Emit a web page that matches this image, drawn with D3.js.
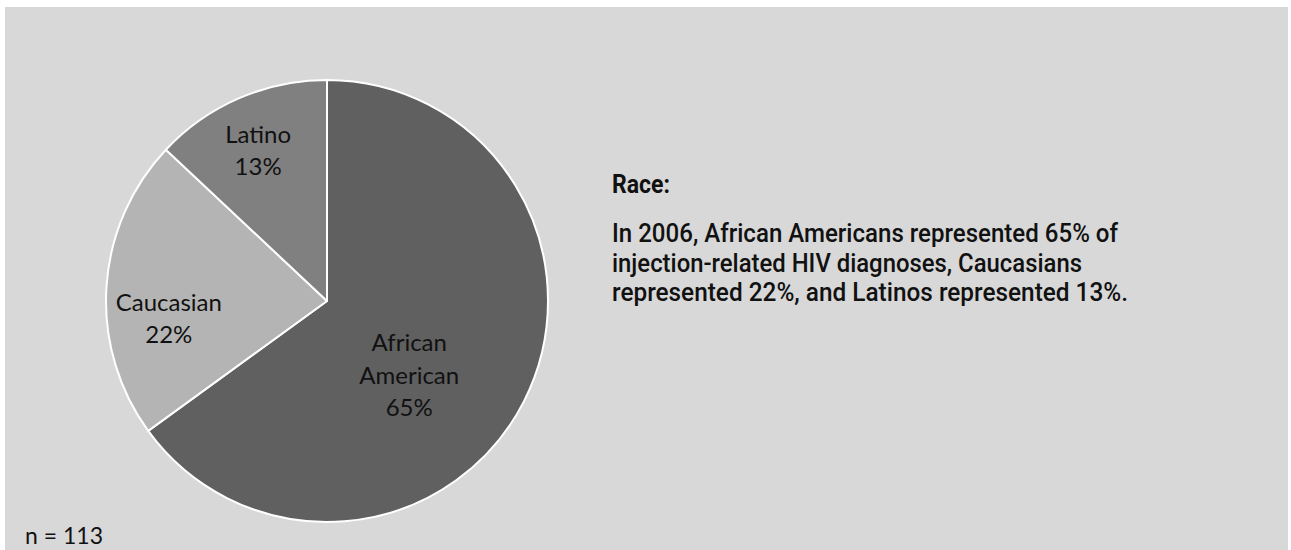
<!DOCTYPE html>
<html>
<head>
<meta charset="utf-8">
<script src="https://cdn.jsdelivr.net/npm/d3@7"></script>
<style>
  html, body { margin: 0; padding: 0; background: #fff; }
  svg { display: block; }
</style>
</head>
<body>
<svg id="chart"></svg>
<script>
// data
const categories = ['African American', 'Caucasian', 'Latino'];
const shares = [65, 22, 13];
const sampleLabel = 'n = 113';
const heading = 'Race:';
const noteLines = [
  'In 2006, African Americans represented 65% of',
  'injection-related HIV diagnoses, Caucasians',
  'represented 22%, and Latinos represented 13%.'
];

const W = 1291, H = 550;
const cx = 327, cy = 301, r = 221;
const fills = ['#606060', '#b4b4b4', '#808080'];
const labelFont = 'Lato, "Open Sans", sans-serif';
const noteFont = 'Roboto, "Liberation Sans Narrow", sans-serif';

const svg = d3.select('#chart').attr('width', W).attr('height', H);

svg.append('rect')
  .attr('x', 5).attr('y', 7)
  .attr('width', 1283).attr('height', H - 7)
  .attr('fill', '#d8d8d8');

const pie = d3.pie().sort(null).value(d => d.value).startAngle(0).endAngle(2 * Math.PI);
const arcs = pie(categories.map((c, i) => ({ name: c, value: shares[i] })));

const arc = d3.arc().innerRadius(0).outerRadius(r);

const g = svg.append('g').attr('transform', `translate(${cx},${cy})`);

g.selectAll('path.slice')
  .data(arcs)
  .join('path')
  .attr('class', 'slice')
  .attr('d', arc)
  .attr('fill', (d, i) => fills[i])
  .attr('stroke', '#fff')
  .attr('stroke-width', 2)
  .attr('stroke-linejoin', 'round');

// excel "best fit" style label spots: radius fraction + angle nudge per slice
const labelFit = [
  { rf: 0.50, da: 0.26 },
  { rf: 0.72, da: -0.17 },
  { rf: 0.75, da: -0.02 }
];

g.selectAll('text.lbl')
  .data(arcs)
  .join('text')
  .attr('class', 'lbl')
  .attr('font-family', labelFont)
  .attr('font-size', 24)
  .attr('fill', '#111')
  .attr('text-anchor', 'middle')
  .each(function (d, i) {
    const f = labelFit[i];
    const a = (d.startAngle + d.endAngle) / 2 + f.da;
    const rr = r * f.rf;
    const x = Math.sin(a) * rr;
    const y = -Math.cos(a) * rr;
    const words = d.data.name === 'African American' ? ['African', 'American'] : [d.data.name];
    const lines = words.concat([d.data.value + '%']);
    const lh = 32.5;
    const top = y - (lines.length - 1) * lh / 2 + 9;
    const t = d3.select(this);
    lines.forEach((ln, k) => {
      t.append('tspan').attr('x', x).attr('y', top + k * lh).text(ln);
    });
  });

svg.append('text')
  .attr('x', 25).attr('y', 544)
  .attr('font-family', labelFont)
  .attr('font-size', 23)
  .attr('fill', '#111')
  .text(sampleLabel);

svg.append('text')
  .attr('x', 612).attr('y', 193)
  .attr('font-family', noteFont)
  .attr('font-weight', 'bold')
  .attr('font-size', 26)
  .attr('fill', '#111')
  .attr('textLength', 58)
  .attr('lengthAdjust', 'spacingAndGlyphs')
  .text(heading);

const lineEnds = [1118, 1082, 1128];
svg.selectAll('text.note')
  .data(noteLines)
  .join('text')
  .attr('class', 'note')
  .attr('x', 612)
  .attr('y', (d, i) => 242 + i * 29.5)
  .attr('font-family', noteFont)
  .attr('font-weight', 500)
  .attr('font-size', 25.5)
  .attr('fill', '#111')
  .attr('textLength', (d, i) => lineEnds[i] - 612)
  .attr('lengthAdjust', 'spacingAndGlyphs')
  .text(d => d);
</script>
</body>
</html>
